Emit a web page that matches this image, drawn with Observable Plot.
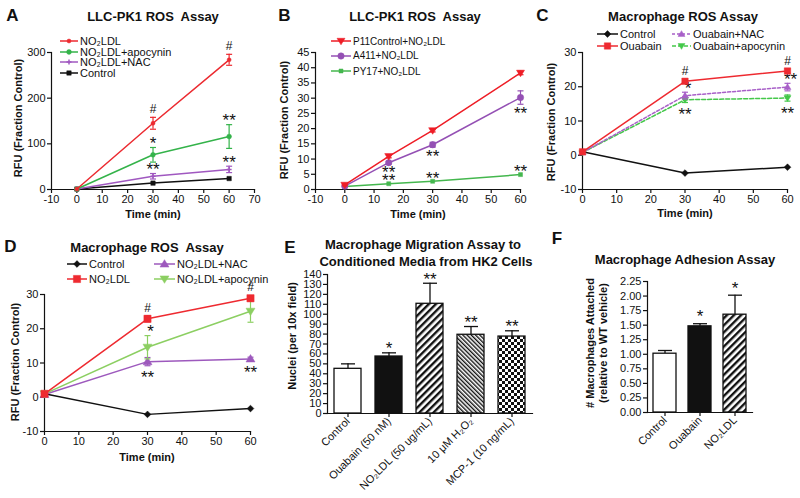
<!DOCTYPE html>
<html>
<head>
<meta charset="utf-8">
<script src="https://cdn.jsdelivr.net/npm/d3@7"></script>
<script src="https://cdn.jsdelivr.net/npm/@observablehq/plot@0.6"></script>
<style>
html,body{margin:0;padding:0;background:#fff;}
#root{position:relative;width:800px;height:498px;overflow:hidden;font-family:"Liberation Sans",Arial,Helvetica,sans-serif;color:#111;}
.abs{position:absolute;white-space:nowrap;}
.panel svg{overflow:visible;background:transparent;}
.leg{position:absolute;display:flex;align-items:center;white-space:nowrap;}
.leg svg{display:block;margin-right:2px;}
</style>
</head>
<body>
<div id="root"></div>
<svg width="0" height="0" style="position:absolute">
<defs>
<pattern id="hatchWide" patternUnits="userSpaceOnUse" width="5" height="5" patternTransform="rotate(45)">
<rect width="5" height="5" fill="white"/><rect x="0" y="0" width="2.4" height="5" fill="#111"/>
</pattern>
<pattern id="hatchFine" patternUnits="userSpaceOnUse" width="3" height="3" patternTransform="rotate(-45)">
<rect width="3" height="3" fill="white"/><rect width="1.4" height="3" fill="#111"/>
</pattern>
<pattern id="checker" patternUnits="userSpaceOnUse" width="6" height="6">
<rect width="6" height="6" fill="white"/><rect width="3" height="3" fill="#111"/><rect x="3" y="3" width="3" height="3" fill="#111"/>
</pattern>
</defs>
</svg>
<script>
// ================= DATA =================
// Panel A – LLC-PK1 ROS Assay
const aTime = [0, 30, 60];
const aNames = ["NO₂LDL", "NO₂LDL+apocynin", "NO₂LDL+NAC", "Control"];
const aNO2LDL = [1, 145, 284];
const aNO2LDLErr = [0, 13, 12];
const aNO2LDLSig = ["", "#", "#"];
const aApocynin = [1, 76, 116];
const aApocyninErr = [0, 16, 26];
const aApocyninSig = ["", "*", "**"];
const aNAC = [1, 29, 44];
const aNACErr = [0, 6, 7];
const aNACSig = ["", "**", "**"];
const aControl = [1, 14, 24];
const aXTicks = [-10, 0, 10, 20, 30, 40, 50, 60, 70];
const aYTicks = [0, 100, 200, 300];

// Panel B – LLC-PK1 ROS Assay
const bTime = [0, 15, 30, 60];
const bNames = ["P11Control+NO₂LDL", "A411+NO₂LDL", "PY17+NO₂LDL"];
const bP11 = [1.5, 10.9, 19.4, 38.3];
const bP11Err = [0.3, 0.5, 0.5, 0.6];
const bA411 = [1.1, 8.8, 14.7, 30.2];
const bA411Err = [0, 0.4, 0.8, 2.2];
const bA411Sig = ["", "**", "**", "**"];
const bPY17 = [1, 1.9, 2.7, 4.9];
const bPY17Sig = ["", "**", "**", "**"];
const bXTicks = [-10, 0, 10, 20, 30, 40, 50, 60];
const bYTicks = [0, 5, 10, 15, 20, 25, 30, 35, 40, 45];

// Panel C – Macrophage ROS Assay (ouabain)
const cTime = [0, 30, 60];
const cNames = ["Control", "Ouabain", "Ouabain+NAC", "Ouabain+apocynin"];
const cControl = [1, -5.2, -3.5];
const cOuabain = [1, 21.6, 24.6];
const cOuabainErr = [0, 0.6, 0.6];
const cOuabainSig = ["", "#", "#"];
const cNAC = [0.8, 17.4, 19.9];
const cNACErr = [0, 1, 1.1];
const cNACSig = ["", "*", "**"];
const cApocynin = [0.8, 16.2, 16.7];
const cApocyninErr = [0, 0.8, 0.9];
const cApocyninSig = ["", "**", "**"];
const cXTicks = [0, 10, 20, 30, 40, 50, 60];
const cYTicks = [-10, 0, 10, 20, 30];

// Panel D – Macrophage ROS Assay (NO2LDL)
const dTime = [0, 30, 60];
const dNames = ["Control", "NO₂LDL", "NO₂LDL+NAC", "NO₂LDL+apocynin"];
const dControl = [1, -5.0, -3.3];
const dNO2LDL = [1, 22.9, 28.9];
const dNO2LDLErr = [0, 0.9, 0.8];
const dNO2LDLSig = ["", "#", "#"];
const dNAC = [0.8, 10.4, 11.2];
const dNACErr = [0, 1.2, 0.5];
const dNACSig = ["", "**", "**"];
const dApocynin = [1, 14.6, 25.1];
const dApocyninErr = [0, 3.4, 3.2];
const dApocyninSig = ["", "*", ""];
const dXTicks = [0, 10, 20, 30, 40, 50, 60];
const dYTicks = [-10, 0, 10, 20, 30];

// Panel E – Macrophage Migration Assay
const eCats = ["Control", "Ouabain (50 nM)", "NO₂LDL (50 ug/mL)", "10 μM H₂O₂", "MCP-1 (10 ng/mL)"];
const eMean = [45, 57.4, 110.5, 79.3, 77.5];
const eErr = [5, 3.7, 20.7, 8.3, 5.8];
const eSig = ["", "*", "**", "**", "**"];
const eYTicks = [0, 10, 20, 30, 40, 50, 60, 70, 80, 90, 100, 110, 120, 130, 140];

// Panel F – Macrophage Adhesion Assay
const fCats = ["Control", "Ouabain", "NO₂LDL"];
const fMean = [1.01, 1.48, 1.68];
const fErr = [0.055, 0.045, 0.335];
const fSig = ["", "*", "*"];
const fYTicks = [0, 0.25, 0.5, 0.75, 1, 1.25, 1.5, 1.75, 2, 2.25];

// ================= STYLES / HELPERS =================
const FONT = '"Liberation Sans", Arial, Helvetica, sans-serif';
const INK = "#111";
const STAR = 17;
const root = document.getElementById("root");
const rad = size => Math.sqrt(size / Math.PI);
const symTriDown = {draw(c, s){const r = rad(s); c.moveTo(0, r*1.2); c.lineTo(-r*1.25, -r*0.85); c.lineTo(r*1.25, -r*0.85); c.closePath();}};
const symTriUp = {draw(c, s){const r = rad(s); c.moveTo(0, -r*1.2); c.lineTo(-r*1.25, r*0.85); c.lineTo(r*1.25, r*0.85); c.closePath();}};
const symSquare = {draw(c, s){const r = rad(s); c.rect(-r, -r, 2*r, 2*r);}};
const symDiamond = {draw(c, s){const r = rad(s)*1.3; c.moveTo(0, -r); c.lineTo(r, 0); c.lineTo(0, r); c.lineTo(-r, 0); c.closePath();}};
const symCircle = {draw(c, s){const r = rad(s); c.moveTo(r, 0); c.arc(0, 0, r, 0, 2*Math.PI);}};
const symPlus = {draw(c, s){const r = rad(s); c.moveTo(-r, 0); c.lineTo(r, 0); c.moveTo(0, -r); c.lineTo(0, r);}};
const symCap = {draw(c, s){const r = rad(s); c.moveTo(-r, 0); c.lineTo(r, 0);}};

const RED = "#ec2a30", GREEN = "#34b34a", PURPLE = "#a058c0", BLACK = "#111";

function rowsOf(xs, ys, errs, sig) {
  return xs.map((x, i) => ({x, y: ys[i], err: errs ? errs[i] : 0, sig: sig ? sig[i] : ""}));
}

function seriesMarks(s) {
  const rows = s.rows;
  const withErr = rows.filter(d => d.err > 0);
  const hashes = rows.filter(d => d.sig === "#");
  const stars = rows.filter(d => d.sig && d.sig !== "#");
  const ySig = d => s.sigPos === "below" ? d.y - d.err : d.y + d.err;
  const starDy = s.starDy != null ? s.starDy : (s.sigPos === "below" ? 12 : -4);
  return [
    Plot.line(rows, {x: "x", y: "y", stroke: s.color, strokeWidth: 1.5, strokeDasharray: s.dash || null}),
    Plot.ruleX(withErr, {x: "x", y1: d => d.y - d.err, y2: d => d.y + d.err, stroke: s.color, strokeWidth: 1.2}),
    Plot.dot(withErr, {x: "x", y: d => d.y + d.err, symbol: symCap, r: 3, stroke: s.color, fill: "none", strokeWidth: 1.2}),
    Plot.dot(withErr, {x: "x", y: d => d.y - d.err, symbol: symCap, r: 3, stroke: s.color, fill: "none", strokeWidth: 1.2}),
    Plot.dot(rows, {x: "x", y: "y", symbol: s.symbol, r: s.r, fill: s.color, stroke: s.color, strokeWidth: s.symbol === symPlus ? 1.5 : 0.5}),
    Plot.text(hashes, {x: "x", y: ySig, text: "sig", dy: -8, fontSize: 12, lineAnchor: "middle", fill: INK}),
    Plot.text(stars, {x: "x", y: ySig, text: "sig", dx: s.starDx || 0, dy: starDy, fontSize: STAR, lineAnchor: "middle", fill: INK})
  ];
}

function place(node, left, top) {
  const d = document.createElement("div");
  d.className = "panel abs";
  d.style.left = left + "px"; d.style.top = top + "px";
  d.appendChild(node);
  root.appendChild(d);
}

function label(html, x, y, {size = 11, bold = false, rotate = 0, lh} = {}) {
  const d = document.createElement("div");
  d.className = "abs";
  d.innerHTML = html;
  d.style.left = x + "px"; d.style.top = y + "px";
  d.style.fontSize = size + "px";
  d.style.fontWeight = bold ? "bold" : "normal";
  d.style.lineHeight = (lh || Math.round(size * 1.15)) + "px";
  d.style.textAlign = "center";
  d.style.transform = "translate(-50%,-50%)" + (rotate ? ` rotate(${rotate}deg)` : "");
  root.appendChild(d);
}

function legendEntry(x, y, name, s, size = 11, sw = 20) {
  const d = document.createElement("div");
  d.className = "leg";
  d.style.left = x + "px"; d.style.top = (y - 7) + "px"; d.style.height = "14px";
  d.style.fontSize = size + "px";
  const path = d3.symbol(s.symbol, Math.PI * s.r * s.r)();
  const dash = s.dash ? `stroke-dasharray="${s.dash}"` : "";
  const sWidth = s.symbol === symPlus ? 1.5 : 0.5;
  d.innerHTML = `<svg width="${sw}" height="12"><line x1="0" x2="${sw}" y1="6" y2="6" stroke="${s.color}" stroke-width="1.5" ${dash}/>` +
    `<path d="${path}" transform="translate(${sw/2},6)" fill="${s.color}" stroke="${s.color}" stroke-width="${sWidth}"/></svg><span>${name}</span>`;
  root.appendChild(d);
}

const axisStyle = {fontFamily: FONT, fontSize: "11px", background: "transparent", overflow: "visible", color: INK};
const fmt = d => String(d);

function linePanel(cfg) {
  const marks = [
    Plot.frame({anchor: "left", stroke: INK, strokeWidth: 1.2}),
    Plot.frame({anchor: "bottom", stroke: INK, strokeWidth: 1.2}),
    Plot.axisX({ticks: cfg.xTicks, tickFormat: fmt, tickSize: 4, tickPadding: 2, label: null, strokeWidth: 1.2}),
    Plot.axisY({ticks: cfg.yTicks, tickFormat: fmt, tickSize: 4, tickPadding: 2, label: null, strokeWidth: 1.2})
  ];
  for (const s of cfg.series) marks.push(...seriesMarks(s));
  const svg = Plot.plot({
    width: cfg.width, height: cfg.height,
    marginLeft: cfg.m[0], marginRight: cfg.m[1], marginTop: cfg.m[2], marginBottom: cfg.m[3],
    x: {domain: cfg.xDomain}, y: {domain: cfg.yDomain},
    style: axisStyle,
    marks
  });
  place(svg, cfg.left, cfg.top);
}

function barPanel(cfg) {
  const rows = cfg.cats.map((c, i) => ({cat: c, v: cfg.mean[i], err: cfg.err[i], sig: cfg.sig[i]}));
  const svg = Plot.plot({
    width: cfg.width, height: cfg.height,
    marginLeft: cfg.m[0], marginRight: cfg.m[1], marginTop: cfg.m[2], marginBottom: cfg.m[3],
    x: {domain: cfg.cats, paddingInner: cfg.pad[0], paddingOuter: cfg.pad[1]},
    y: {domain: cfg.yDomain},
    color: {type: "ordinal", domain: cfg.cats, range: cfg.fills},
    style: axisStyle,
    marks: [
      Plot.ruleX(rows, {x: "cat", y1: "v", y2: d => d.v + d.err, stroke: INK, strokeWidth: 1.3}),
      Plot.dot(rows, {x: "cat", y: d => d.v + d.err, symbol: symCap, r: 7, stroke: INK, fill: "none", strokeWidth: 1.3}),
      Plot.barY(rows, {x: "cat", y: "v", fill: "cat", stroke: INK, strokeWidth: 1.3}),
      Plot.text(rows.filter(d => d.sig), {x: "cat", y: d => d.v + d.err, text: "sig", dy: cfg.starDy, fontSize: STAR, lineAnchor: "middle", fill: INK}),
      Plot.frame({anchor: "left", stroke: INK, strokeWidth: 1.2}),
      Plot.frame({anchor: "bottom", stroke: INK, strokeWidth: 1.2}),
      Plot.axisY({ticks: cfg.yTicks, tickFormat: cfg.yFormat, tickSize: 4, tickPadding: 2, label: null, strokeWidth: 1.2}),
      Plot.axisX({tickRotate: -45, tickSize: 4, tickPadding: 2, label: null, strokeWidth: 1.2})
    ]
  });
  place(svg, cfg.left, cfg.top);
}

// ================= PANEL A =================
const aSeries = [
  {rows: rowsOf(aTime, aControl), color: BLACK, symbol: symSquare, r: 2.2},
  {rows: rowsOf(aTime, aNAC, aNACErr, aNACSig), color: PURPLE, symbol: symPlus, r: 2.5, sigPos: "above"},
  {rows: rowsOf(aTime, aApocynin, aApocyninErr, aApocyninSig), color: GREEN, symbol: symCircle, r: 2.4, sigPos: "above"},
  {rows: rowsOf(aTime, aNO2LDL, aNO2LDLErr, aNO2LDLSig), color: RED, symbol: symCircle, r: 2, sigPos: "above"}
];
linePanel({left: 0, top: 0, width: 270, height: 230, m: [51, 16, 52, 41],
  xDomain: [-10, 70], yDomain: [0, 300], xTicks: aXTicks, yTicks: aYTicks, series: aSeries});
[aSeries[3], aSeries[2], aSeries[1], aSeries[0]].forEach((s, i) => legendEntry(60, 41 + i * 10.5, aNames[i], s, 11, 18));

// ================= PANEL B =================
const bSeries = [
  {rows: rowsOf(bTime, bPY17, null, bPY17Sig), color: "#44b74e", symbol: symSquare, r: 2, sigPos: "above", starDy: -3},
  {rows: rowsOf(bTime, bA411, bA411Err, bA411Sig), color: "#9450b4", symbol: symCircle, r: 3.2, sigPos: "below", starDy: 9},
  {rows: rowsOf(bTime, bP11, bP11Err), color: "#ee1d26", symbol: symTriDown, r: 3.2}
];
linePanel({left: 265, top: 0, width: 270, height: 230, m: [50, 15, 52, 41],
  xDomain: [-10, 60], yDomain: [0, 45], xTicks: bXTicks, yTicks: bYTicks, series: bSeries});
[bSeries[2], bSeries[1], bSeries[0]].forEach((s, i) => legendEntry(331, [41, 55.5, 71][i], bNames[i], s, 10, 20));

// ================= PANEL C =================
const cSeries = [
  {rows: rowsOf(cTime, cControl), color: BLACK, symbol: symDiamond, r: 2.6},
  {rows: rowsOf(cTime, cApocynin, cApocyninErr, cApocyninSig), color: "#44c84a", symbol: symTriDown, r: 2.8, dash: "4,2", sigPos: "below"},
  {rows: rowsOf(cTime, cNAC, cNACErr, cNACSig), color: "#a860c8", symbol: symTriUp, r: 2.8, dash: "3,2", sigPos: "above", starDx: 3},
  {rows: rowsOf(cTime, cOuabain, cOuabainErr, cOuabainSig), color: "#ee2a30", symbol: symSquare, r: 3.2, sigPos: "above"}
];
linePanel({left: 530, top: 0, width: 270, height: 230, m: [52, 13, 52, 41],
  xDomain: [0, 60], yDomain: [-10, 30], xTicks: cXTicks, yTicks: cYTicks, series: cSeries});
legendEntry(597, 34, cNames[0], cSeries[0], 11, 21);
legendEntry(597, 45.5, cNames[1], cSeries[3], 11, 21);
legendEntry(672, 34, cNames[2], cSeries[2], 11, 19);
legendEntry(672, 45.5, cNames[3], cSeries[1], 11, 19);

// ================= PANEL D =================
const dSeries = [
  {rows: rowsOf(dTime, dControl), color: BLACK, symbol: symDiamond, r: 2.6},
  {rows: rowsOf(dTime, dNAC, dNACErr, dNACSig), color: "#9d59bd", symbol: symTriUp, r: 3.6, sigPos: "below"},
  {rows: rowsOf(dTime, dApocynin, dApocyninErr, dApocyninSig), color: "#8ccf62", symbol: symTriDown, r: 3.6, sigPos: "above", starDx: 3},
  {rows: rowsOf(dTime, dNO2LDL, dNO2LDLErr, dNO2LDLSig), color: "#ee2a30", symbol: symSquare, r: 3.6, sigPos: "above"}
];
linePanel({left: 0, top: 240, width: 270, height: 230, m: [44, 20, 54, 39],
  xDomain: [0, 60], yDomain: [-10, 30], xTicks: dXTicks, yTicks: dYTicks, series: dSeries});
legendEntry(67, 263.5, dNames[0], dSeries[0], 11, 20);
legendEntry(67, 278.5, dNames[1], dSeries[3], 11, 20);
legendEntry(154, 263.5, dNames[2], dSeries[1], 11, 21);
legendEntry(154, 278.5, dNames[3], dSeries[2], 11, 21);

// ================= PANEL E =================
barPanel({left: 265, top: 240, width: 270, height: 258, m: [62, 3, 34, 85],
  cats: eCats, mean: eMean, err: eErr, sig: eSig, pad: [0.34, 0.145],
  fills: ["white", INK, "url(#hatchWide)", "url(#hatchFine)", "url(#checker)"],
  yDomain: [0, 140], yTicks: eYTicks, yFormat: fmt, starDy: -4});

// ================= PANEL F =================
barPanel({left: 560, top: 240, width: 240, height: 258, m: [87, 48, 41, 86],
  cats: fCats, mean: fMean, err: fErr, sig: fSig, pad: [0.35, 0.15],
  fills: ["white", INK, "url(#hatchWide)"],
  yDomain: [0, 2.25], yTicks: fYTicks, yFormat: d3.format(".2f"), starDy: -7});

// ================= TEXT =================
label("A", 12.5, 15.5, {size: 17, bold: true});
label("B", 284.5, 15.5, {size: 17, bold: true});
label("C", 542.5, 15.5, {size: 17, bold: true});
label("D", 10.5, 247, {size: 17, bold: true});
label("E", 290, 248, {size: 17, bold: true});
label("F", 557, 239, {size: 17, bold: true});

label("LLC-PK1 ROS&nbsp; Assay", 153, 15.5, {size: 13, bold: true});
label("LLC-PK1 ROS&nbsp; Assay", 415, 15.5, {size: 13, bold: true});
label("Macrophage ROS Assay", 683, 16, {size: 13, bold: true});
label("Macrophage ROS&nbsp; Assay", 147, 247, {size: 13, bold: true});
label("Macrophage Migration Assay to", 423, 244, {size: 13, bold: true});
label("Conditioned Media from HK2 Cells", 426, 261, {size: 13, bold: true});
label("Macrophage Adhesion Assay", 685, 258.5, {size: 13, bold: true});

label("RFU (Fraction Control)", 18, 118, {size: 11, bold: true, rotate: -90});
label("RFU (Fraction Control)", 284, 120, {size: 11, bold: true, rotate: -90});
label("RFU (Fraction Control)", 551, 122, {size: 11, bold: true, rotate: -90});
label("RFU (Fraction Control)", 15, 362, {size: 11, bold: true, rotate: -90});
label("Nuclei (per 10x field)", 292, 336, {size: 11, bold: true, rotate: -90});
label("# Macrophages Attached<br>(relative to WT vehicle)", 596.5, 343, {size: 11, bold: true, rotate: -90, lh: 13});

label("Time (min)", 153, 214, {size: 11, bold: true});
label("Time (min)", 418, 214, {size: 11, bold: true});
label("Time (min)", 685, 213, {size: 11, bold: true});
label("Time (min)", 147, 457, {size: 11, bold: true});
</script>
</body>
</html>
